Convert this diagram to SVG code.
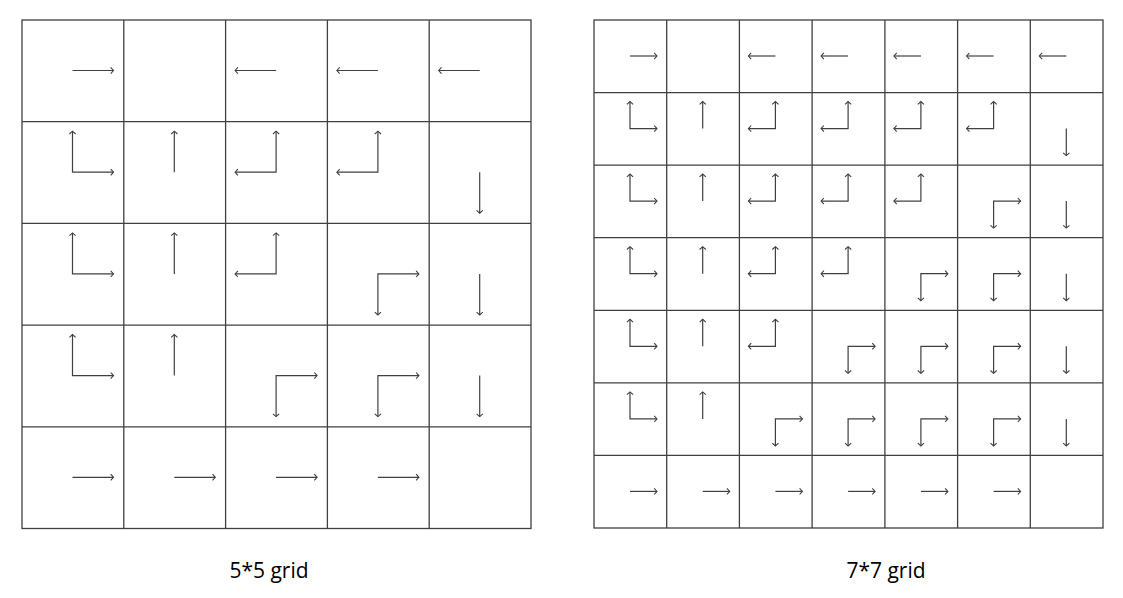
<svg xmlns="http://www.w3.org/2000/svg" xmlns:xlink="http://www.w3.org/1999/xlink" width="1123" height="598" viewBox="0 0 1123 598">
<style>
.grid{fill:none;stroke:#404040;stroke-width:1.3}
.arr{fill:none;stroke:#404040;stroke-width:1.2;marker-end:url(#head)}
.arr2{fill:none;stroke:#404040;stroke-width:1.2;marker-start:url(#head);marker-end:url(#head)}
.lbl{font-family:"Open Sans","Liberation Sans",sans-serif;font-size:21px;fill:#000;text-anchor:middle}
</style>
<defs>
<marker id="head" markerUnits="userSpaceOnUse" markerWidth="8" markerHeight="8" refX="4" refY="4" orient="auto-start-reverse" viewBox="0 0 8 8">
<path d="M1.2,0.9 L4,4 L1.2,7.1" fill="none" stroke="#404040" stroke-width="1.1"/>
</marker>
<line id="a5R" class="arr" x1="0" y1="0" x2="41" y2="0"/>
<line id="a5L" class="arr" x1="0" y1="0" x2="-41" y2="0"/>
<line id="a5U" class="arr" x1="0" y1="0" x2="0" y2="-41"/>
<line id="a5D" class="arr" x1="0" y1="0" x2="0" y2="41"/>
<polyline id="a5UR" class="arr2" points="0,-41 0,0 41,0"/>
<polyline id="a5UL" class="arr2" points="0,-41 0,0 -41,0"/>
<polyline id="a5DR" class="arr2" points="0,41 0,0 41,0"/>
<line id="a7R" class="arr" x1="0" y1="0" x2="27" y2="0"/>
<line id="a7L" class="arr" x1="0" y1="0" x2="-27" y2="0"/>
<line id="a7U" class="arr" x1="0" y1="0" x2="0" y2="-27"/>
<line id="a7D" class="arr" x1="0" y1="0" x2="0" y2="27"/>
<polyline id="a7UR" class="arr2" points="0,-27 0,0 27,0"/>
<polyline id="a7UL" class="arr2" points="0,-27 0,0 -27,0"/>
<polyline id="a7DR" class="arr2" points="0,27 0,0 27,0"/>
</defs>

<g id="grid5">
<g id="grid5-lines" class="grid">
<rect x="22" y="20" width="509" height="508.5"/>
<path d="M123.8,20V528.5M225.6,20V528.5M327.4,20V528.5M429.2,20V528.5M22,121.7H531M22,223.4H531M22,325.1H531M22,426.8H531"/>
</g>
<g id="grid5-arrows">
<use href="#a5R" x="72.5" y="70.5"/>
<use href="#a5L" x="276.1" y="70.5"/>
<use href="#a5L" x="377.9" y="70.5"/>
<use href="#a5L" x="479.7" y="70.5"/>

<use href="#a5UR" x="72.5" y="172.2"/>
<use href="#a5U" x="174.3" y="172.2"/>
<use href="#a5UL" x="276.1" y="172.2"/>
<use href="#a5UL" x="377.9" y="172.2"/>
<use href="#a5D" x="479.7" y="172.2"/>

<use href="#a5UR" x="72.5" y="273.9"/>
<use href="#a5U" x="174.3" y="273.9"/>
<use href="#a5UL" x="276.1" y="273.9"/>
<use href="#a5DR" x="377.9" y="273.9"/>
<use href="#a5D" x="479.7" y="273.9"/>

<use href="#a5UR" x="72.5" y="375.6"/>
<use href="#a5U" x="174.3" y="375.6"/>
<use href="#a5DR" x="276.1" y="375.6"/>
<use href="#a5DR" x="377.9" y="375.6"/>
<use href="#a5D" x="479.7" y="375.6"/>

<use href="#a5R" x="72.5" y="477.3"/>
<use href="#a5R" x="174.3" y="477.3"/>
<use href="#a5R" x="276.1" y="477.3"/>
<use href="#a5R" x="377.9" y="477.3"/>
</g>
<text id="label5" class="lbl" x="269" y="578">5*5 grid</text>
</g>

<g id="grid7">
<g id="grid7-lines" class="grid">
<rect x="594" y="20" width="509" height="508"/>
<path d="M666.7,20V528M739.4,20V528M812.1,20V528M884.9,20V528M957.6,20V528M1030.3,20V528M594,92.6H1103M594,165.1H1103M594,237.7H1103M594,310.3H1103M594,382.9H1103M594,455.4H1103"/>
</g>
<g id="grid7-arrows">
<use href="#a7R" x="630" y="56"/>
<use href="#a7L" x="775.4" y="56"/>
<use href="#a7L" x="848.1" y="56"/>
<use href="#a7L" x="920.9" y="56"/>
<use href="#a7L" x="993.6" y="56"/>
<use href="#a7L" x="1066.3" y="56"/>

<use href="#a7UR" x="630" y="128.6"/>
<use href="#a7U" x="702.7" y="128.6"/>
<use href="#a7UL" x="775.4" y="128.6"/>
<use href="#a7UL" x="848.1" y="128.6"/>
<use href="#a7UL" x="920.9" y="128.6"/>
<use href="#a7UL" x="993.6" y="128.6"/>
<use href="#a7D" x="1066.3" y="128.6"/>

<use href="#a7UR" x="630" y="201.1"/>
<use href="#a7U" x="702.7" y="201.1"/>
<use href="#a7UL" x="775.4" y="201.1"/>
<use href="#a7UL" x="848.1" y="201.1"/>
<use href="#a7UL" x="920.9" y="201.1"/>
<use href="#a7DR" x="993.6" y="201.1"/>
<use href="#a7D" x="1066.3" y="201.1"/>

<use href="#a7UR" x="630" y="273.7"/>
<use href="#a7U" x="702.7" y="273.7"/>
<use href="#a7UL" x="775.4" y="273.7"/>
<use href="#a7UL" x="848.1" y="273.7"/>
<use href="#a7DR" x="920.9" y="273.7"/>
<use href="#a7DR" x="993.6" y="273.7"/>
<use href="#a7D" x="1066.3" y="273.7"/>

<use href="#a7UR" x="630" y="346.3"/>
<use href="#a7U" x="702.7" y="346.3"/>
<use href="#a7UL" x="775.4" y="346.3"/>
<use href="#a7DR" x="848.1" y="346.3"/>
<use href="#a7DR" x="920.9" y="346.3"/>
<use href="#a7DR" x="993.6" y="346.3"/>
<use href="#a7D" x="1066.3" y="346.3"/>

<use href="#a7UR" x="630" y="418.9"/>
<use href="#a7U" x="702.7" y="418.9"/>
<use href="#a7DR" x="775.4" y="418.9"/>
<use href="#a7DR" x="848.1" y="418.9"/>
<use href="#a7DR" x="920.9" y="418.9"/>
<use href="#a7DR" x="993.6" y="418.9"/>
<use href="#a7D" x="1066.3" y="418.9"/>

<use href="#a7R" x="630" y="491.4"/>
<use href="#a7R" x="702.7" y="491.4"/>
<use href="#a7R" x="775.4" y="491.4"/>
<use href="#a7R" x="848.1" y="491.4"/>
<use href="#a7R" x="920.9" y="491.4"/>
<use href="#a7R" x="993.6" y="491.4"/>
</g>
<text id="label7" class="lbl" x="886" y="578">7*7 grid</text>
</g>
</svg>
